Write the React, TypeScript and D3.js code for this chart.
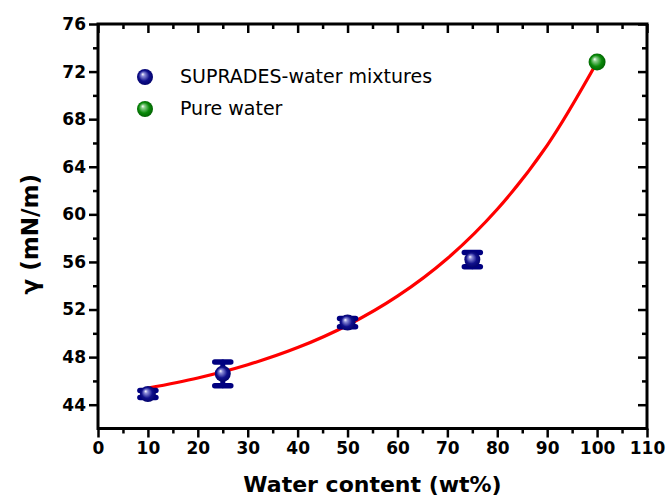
import React, { useEffect, useRef } from 'react';
import * as d3 from 'd3';

// measured points (water content wt%, surface tension mN/m, error)
const waterContent = [10, 25, 50, 75];
const tension = [44.9, 46.6, 50.9, 56.2];
const tensionErr = [0.3, 1.0, 0.35, 0.6];

const pureWater = { x: 100, y: 72.8 };

// fitted curve
const fitX = [10, 20, 30, 40, 50, 60, 70, 80, 90, 100];
const fitY = [45.4, 46.25, 47.36, 48.8, 50.68, 53.12, 56.29, 60.43, 65.8, 72.8];

const xMajor = d3.range(0, 111, 10);
const xMinor = d3.range(5, 110, 10);
const yMajor = d3.range(44, 77, 4);
const yMinor = d3.range(46, 76, 4);

const legendItems = ['SUPRADES-water mixtures', 'Pure water'];

const W = 666;
const H = 498;
const margin = { left: 98, right: 19, top: 24, bottom: 69.5 };
const FONT = '"DejaVu Sans", sans-serif';

function Chart() {
    const ref = useRef<SVGSVGElement>(null);

    useEffect(() => {
        const svg = d3.select(ref.current);
        svg.selectAll('*').remove();

        const x = d3.scaleLinear().domain([0, 110]).range([margin.left, W - margin.right]);
        const y = d3.scaleLinear().domain([42, 76]).range([H - margin.bottom, margin.top]);

        const defs = svg.append('defs');
        const grad = (id: string, light: string, base: string, dark: string) => {
            const g = defs.append('radialGradient')
                .attr('id', id)
                .attr('cx', '0.5').attr('cy', '0.5').attr('r', '0.55')
                .attr('fx', '0.35').attr('fy', '0.32');
            g.append('stop').attr('offset', '0').attr('stop-color', '#ffffff');
            g.append('stop').attr('offset', '0.2').attr('stop-color', light);
            g.append('stop').attr('offset', '0.6').attr('stop-color', base);
            g.append('stop').attr('offset', '1').attr('stop-color', dark);
        };
        grad('blueBall', '#8c8cd8', '#10108c', '#000066');
        grad('greenBall', '#8ccf8c', '#0a8a0a', '#005a00');

        const axisStyle = (g: any, showText: boolean) => {
            g.select('.domain').remove();
            g.selectAll('line').attr('stroke', '#000').attr('stroke-width', 2.5);
            g.selectAll('text')
                .attr('fill', '#000')
                .style('font-family', FONT)
                .style('font-weight', 'bold')
                .style('font-size', '17px')
                .style('display', showText ? null : 'none');
        };

        const yb = H - margin.bottom;
        const xr = W - margin.right;

        // bottom
        svg.append('g').attr('transform', `translate(0,${yb})`)
            .call(d3.axisBottom(x).tickValues(xMajor).tickSize(9).tickPadding(4).tickFormat(d3.format('d')))
            .call((g: any) => axisStyle(g, true));
        svg.append('g').attr('transform', `translate(0,${yb})`)
            .call(d3.axisBottom(x).tickValues(xMinor).tickSize(5).tickFormat(() => ''))
            .call((g: any) => axisStyle(g, false));
        // top (inward)
        svg.append('g').attr('transform', `translate(0,${margin.top})`)
            .call(d3.axisTop(x).tickValues(xMajor).tickSize(-9).tickFormat(() => ''))
            .call((g: any) => axisStyle(g, false));
        svg.append('g').attr('transform', `translate(0,${margin.top})`)
            .call(d3.axisTop(x).tickValues(xMinor).tickSize(-5).tickFormat(() => ''))
            .call((g: any) => axisStyle(g, false));
        // left
        svg.append('g').attr('transform', `translate(${margin.left},0)`)
            .call(d3.axisLeft(y).tickValues(yMajor).tickSize(9).tickPadding(3).tickFormat(d3.format('d')))
            .call((g: any) => axisStyle(g, true));
        svg.append('g').attr('transform', `translate(${margin.left},0)`)
            .call(d3.axisLeft(y).tickValues(yMinor).tickSize(5).tickFormat(() => ''))
            .call((g: any) => axisStyle(g, false));
        // right (inward)
        svg.append('g').attr('transform', `translate(${xr},0)`)
            .call(d3.axisRight(y).tickValues(yMajor).tickSize(-9).tickFormat(() => ''))
            .call((g: any) => axisStyle(g, false));
        svg.append('g').attr('transform', `translate(${xr},0)`)
            .call(d3.axisRight(y).tickValues(yMinor).tickSize(-5).tickFormat(() => ''))
            .call((g: any) => axisStyle(g, false));

        // frame
        svg.append('rect')
            .attr('x', margin.left).attr('y', margin.top)
            .attr('width', xr - margin.left).attr('height', yb - margin.top)
            .attr('fill', 'none').attr('stroke', '#000').attr('stroke-width', 3);

        // fit curve
        const line = d3.line<number>()
            .x((d, i) => x(fitX[i]))
            .y(d => y(d))
            .curve(d3.curveCatmullRom);
        svg.append('path')
            .datum(fitY)
            .attr('d', line)
            .attr('fill', 'none')
            .attr('stroke', '#ff0000')
            .attr('stroke-width', 3.2);

        // error bars
        const navy = '#000080';
        waterContent.forEach((wc, i) => {
            const cx = x(wc);
            const top = y(tension[i] + tensionErr[i]);
            const bot = y(tension[i] - tensionErr[i]);
            const g = svg.append('g').attr('stroke', navy).attr('stroke-linecap', 'round');
            g.append('line').attr('x1', cx).attr('x2', cx).attr('y1', top).attr('y2', bot).attr('stroke-width', 5);
            g.append('line').attr('x1', cx - 8).attr('x2', cx + 8).attr('y1', top).attr('y2', top).attr('stroke-width', 5.5);
            g.append('line').attr('x1', cx - 8).attr('x2', cx + 8).attr('y1', bot).attr('y2', bot).attr('stroke-width', 5.5);
        });

        svg.selectAll('circle.pt')
            .data(waterContent)
            .join('circle')
            .attr('class', 'pt')
            .attr('cx', d => x(d))
            .attr('cy', (d, i) => y(tension[i]))
            .attr('r', 8)
            .attr('fill', 'url(#blueBall)');

        svg.append('circle')
            .attr('cx', x(pureWater.x))
            .attr('cy', y(pureWater.y))
            .attr('r', 8.5)
            .attr('fill', 'url(#greenBall)');

        // legend
        const lg = svg.append('g');
        legendItems.forEach((label, i) => {
            const ly = 77 + i * 32;
            lg.append('circle').attr('cx', 145).attr('cy', ly).attr('r', 8)
                .attr('fill', i === 0 ? 'url(#blueBall)' : 'url(#greenBall)');
            lg.append('text')
                .attr('x', 180).attr('y', ly + 6)
                .attr('fill', '#000')
                .style('font-family', FONT)
                .style('font-size', '19px')
                .text(label);
        });

        // axis titles
        svg.append('text')
            .attr('x', (margin.left + xr) / 2)
            .attr('y', 492)
            .attr('text-anchor', 'middle')
            .style('font-family', FONT)
            .style('font-weight', 'bold')
            .style('font-size', '22px')
            .text('Water content (wt%)');

        svg.append('text')
            .attr('transform', `translate(38,${(margin.top + yb) / 2 + 8}) rotate(-90)`)
            .attr('text-anchor', 'middle')
            .style('font-family', FONT)
            .style('font-weight', 'bold')
            .style('font-size', '23px')
            .text('γ (mN/m)');
    }, []);

    return (
        <svg
            ref={ref}
            width={W}
            height={H}
            style={{ position: 'absolute', left: 0, top: 0, background: '#fff' }}
        />
    );
}

export default function App() {
    return <Chart />;
}
